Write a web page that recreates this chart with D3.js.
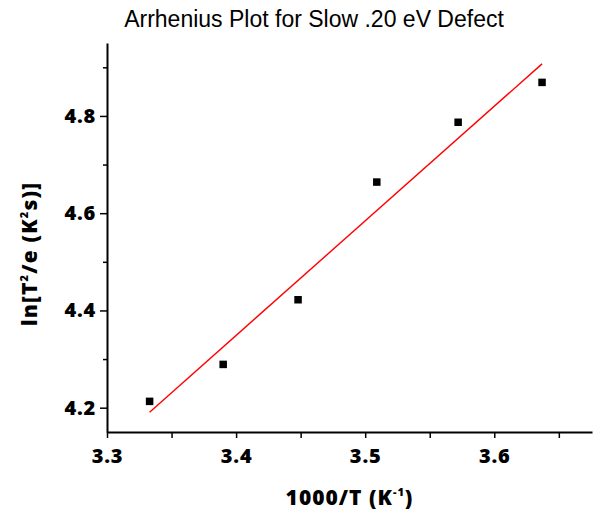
<!DOCTYPE html>
<html>
<head>
<meta charset="utf-8">
<script src="https://cdn.jsdelivr.net/npm/d3@7"></script>
<style>
  body { margin: 0; background: #fff; }
  .tick text { font-family: "Open Sans", sans-serif; font-weight: 800; }
</style>
</head>
<body>
<div id="chart"></div>
<script>
// data
const invTemp = [3.333, 3.390, 3.448, 3.509, 3.572, 3.637];   // 1000/T (K^-1)
const lnTe = [4.213, 4.289, 4.422, 4.664, 4.787, 4.869];      // ln[T^2/e]
const xTicks = [3.3, 3.4, 3.5, 3.6];
const xMinorTicks = [3.35, 3.45, 3.55, 3.65];
const yTicks = [4.2, 4.4, 4.6, 4.8];
const yMinorTicks = [4.3, 4.5, 4.7, 4.9];

const svg_width = 599;
const svg_height = 513;
const margin = {top: 43, right: 7, bottom: 81, left: 107};

const svg = d3.select("#chart").append("svg")
    .attr("width", svg_width)
    .attr("height", svg_height);

const x = d3.scaleLinear()
    .domain([3.3, 3.6757])
    .range([margin.left, svg_width - margin.right]);
const y = d3.scaleLinear()
    .domain([4.15, 4.95])
    .range([svg_height - margin.bottom, margin.top]);

// minor ticks first, majors drawn on top
svg.append("g")
    .attr("transform", "translate(0," + y(4.15) + ")")
    .call(d3.axisBottom(x).tickValues(xMinorTicks).tickSize(6).tickFormat(""))
    .call(g => g.select(".domain").remove());
svg.append("g")
    .attr("transform", "translate(" + x(3.3) + ",0)")
    .call(d3.axisLeft(y).tickValues(yMinorTicks).tickSize(4).tickFormat(""))
    .call(g => g.select(".domain").remove());

const xAxis = svg.append("g")
    .attr("transform", "translate(0," + y(4.15) + ")")
    .call(d3.axisBottom(x).tickValues(xTicks).tickSize(6).tickSizeOuter(0).tickPadding(11).tickFormat(d3.format(".1f")));
xAxis.selectAll(".tick text").style("font-size", "20px").style("letter-spacing", "0.8px");

const yAxis = svg.append("g")
    .attr("transform", "translate(" + x(3.3) + ",0)")
    .call(d3.axisLeft(y).tickValues(yTicks).tickSize(7).tickSizeOuter(0).tickPadding(4).tickFormat(d3.format(".1f")));
yAxis.selectAll(".tick text").style("font-size", "20px").style("letter-spacing", "0.8px");

svg.selectAll(".domain").attr("stroke-width", 2);
svg.selectAll(".tick line").attr("stroke-width", 1.5);

// linear fit through the points
const mx = d3.mean(invTemp), my = d3.mean(lnTe);
const slope = d3.sum(invTemp, (v, i) => (v - mx) * (lnTe[i] - my)) / d3.sum(invTemp, v => (v - mx) * (v - mx));
const fitX = d3.extent(invTemp);

svg.append("line")
    .attr("x1", x(fitX[0]))
    .attr("y1", y(my + slope * (fitX[0] - mx)))
    .attr("x2", x(fitX[1]))
    .attr("y2", y(my + slope * (fitX[1] - mx)))
    .attr("stroke", "#ff0000")
    .attr("stroke-width", 1.4);

const size = 7.5;
svg.selectAll(".pt")
    .data(invTemp)
    .enter().append("rect")
    .attr("class", "pt")
    .attr("x", d => x(d) - size / 2)
    .attr("y", (d, i) => y(lnTe[i]) - size / 2)
    .attr("width", size)
    .attr("height", size)
    .attr("fill", "#000");

// titles
svg.append("text")
    .attr("x", 314)
    .attr("y", 27)
    .attr("text-anchor", "middle")
    .style("font-family", "'Liberation Sans', Arial, sans-serif")
    .style("font-size", "23px")
    .text("Arrhenius Plot for Slow .20 eV Defect");

const xLabel = svg.append("text")
    .attr("x", (x.range()[0] + x.range()[1]) / 2)
    .attr("y", 505)
    .attr("text-anchor", "middle")
    .style("font-family", "'Open Sans', sans-serif")
    .style("font-weight", "800")
    .style("font-size", "21px")
    .style("letter-spacing", "1px");
xLabel.append("tspan").text("1000/T (K");
xLabel.append("tspan").attr("dy", -9).style("font-size", "11px").text("-1");
xLabel.append("tspan").attr("dy", 9).text(")");

const yLabel = svg.append("text")
    .attr("transform", "translate(37,254) rotate(-90)")
    .attr("text-anchor", "middle")
    .style("font-family", "'Open Sans', sans-serif")
    .style("font-weight", "800")
    .style("font-size", "21px")
    .style("letter-spacing", "1.2px");
yLabel.append("tspan").text("ln[T");
yLabel.append("tspan").attr("dy", -9).style("font-size", "11px").text("2");
yLabel.append("tspan").attr("dy", 9).text("/e (K");
yLabel.append("tspan").attr("dy", -9).style("font-size", "11px").text("2");
yLabel.append("tspan").attr("dy", 9).text("s)]");
</script>
</body>
</html>
